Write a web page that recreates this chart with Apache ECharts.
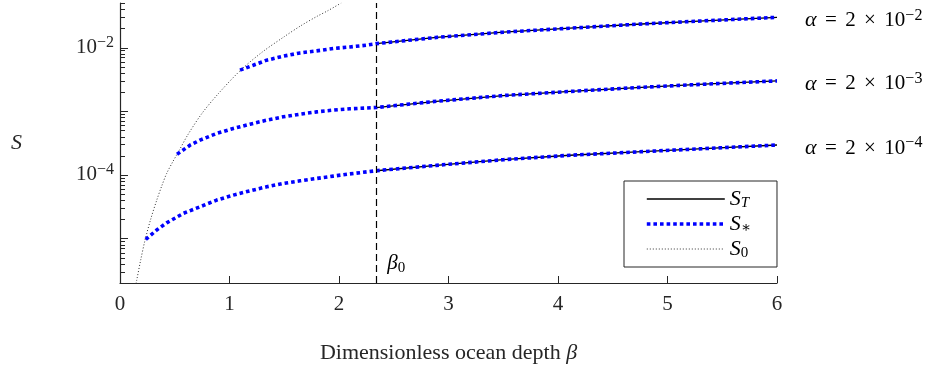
<!DOCTYPE html>
<html>
<head>
<meta charset="utf-8">
<script src="https://cdn.jsdelivr.net/npm/echarts@6/dist/echarts.min.js"></script>
<style>
  html, body { margin: 0; padding: 0; background: #ffffff; }
  #chart { width: 925px; height: 369px; }
</style>
</head>
<body>
<div id="chart"></div>
<script>
// Critical ocean depth marker
const beta0 = 2.34;

// Exact solution S_T (from beta0 onwards), one array per alpha
const betaT = [2.34, 2.89, 3.5, 4.11, 4.72, 5.33, 6.0];
const sT_a2 = [1.15e-2, 1.44e-2, 1.74e-2, 2.01e-2, 2.32e-2, 2.62e-2, 2.98e-2];
const sT_a3 = [1.14e-3, 1.43e-3, 1.76e-3, 2.04e-3, 2.35e-3, 2.65e-3, 2.99e-3];
const sT_a4 = [1.16e-4, 1.41e-4, 1.73e-4, 2.03e-4, 2.29e-4, 2.58e-4, 2.94e-4];

// Approximation S_* for each alpha
const betaStar_a2 = [1.096, 1.217, 1.34, 1.49, 1.644, 1.796, 1.948, 2.1, 2.253, 2.34, 2.89, 3.5, 4.11, 4.72, 5.33, 6.0];
const sStar_a2 = [4.41e-3, 5.27e-3, 6.32e-3, 7.29e-3, 8.22e-3, 8.85e-3, 9.64e-3, 1.02e-2, 1.09e-2, 1.15e-2, 1.44e-2, 1.74e-2, 2.01e-2, 2.32e-2, 2.62e-2, 2.98e-2];

const betaStar_a3 = [0.521, 0.639, 0.731, 0.883, 1.035, 1.187, 1.34, 1.491, 1.644, 1.796, 1.948, 2.1, 2.34, 2.89, 3.5, 4.11, 4.72, 5.33, 6.0];
const sStar_a3 = [2.11e-4, 2.92e-4, 3.51e-4, 4.47e-4, 5.35e-4, 6.25e-4, 7.23e-4, 8.15e-4, 8.97e-4, 9.75e-4, 1.04e-3, 1.09e-3, 1.14e-3, 1.43e-3, 1.76e-3, 2.04e-3, 2.35e-3, 2.65e-3, 2.99e-3];

const betaStar_a4 = [0.235, 0.335, 0.426, 0.578, 0.731, 0.883, 1.035, 1.187, 1.34, 1.491, 1.644, 1.796, 1.948, 2.1, 2.34, 2.89, 3.5, 4.11, 4.72, 5.33, 6.0];
const sStar_a4 = [9.68e-6, 1.36e-5, 1.76e-5, 2.48e-5, 3.15e-5, 4.01e-5, 4.80e-5, 5.61e-5, 6.49e-5, 7.33e-5, 8.05e-5, 8.77e-5, 9.55e-5, 1.035e-4, 1.16e-4, 1.41e-4, 1.73e-4, 2.03e-4, 2.29e-4, 2.58e-4, 2.94e-4];

// Shallow-ocean limit S_0
const beta0Curve = [0.14, 0.152, 0.19, 0.228, 0.28, 0.335, 0.38, 0.426, 0.48, 0.533, 0.62, 0.75, 0.9, 1.1, 1.3, 1.5, 1.65, 1.8, 1.9, 2.02];
const s0 = [1.75e-6, 2.19e-6, 4.68e-6, 9.33e-6, 2.0e-5, 3.98e-5, 6.6e-5, 1.05e-4, 1.58e-4, 2.29e-4, 4.27e-4, 9.3e-4, 1.9e-3, 4.37e-3, 8.5e-3, 1.48e-2, 2.19e-2, 3.09e-2, 3.8e-2, 5.0e-2];

// Axis settings
const xTicks = [0, 1, 2, 3, 4, 5, 6];
const yMin = 2e-6, yMax = 5e-2;
const yLabelExponents = [-2, -4];
const alphaExponents = ['−2', '−3', '−4'];

const SERIF = "'Liberation Serif', 'DejaVu Serif', serif";
const AXIS_COLOR = '#262626';
const BLUE = '#0000ff';
const SP = '\u2009\u2009';

const zip = (xs, ys) => xs.map((x, i) => [x, ys[i]]);

// log-axis tick positions: decades get long ticks, 2..9 get short ones
const yTickMarks = [];
for (let e = -6; e <= -1; e++) {
  for (let k = 1; k <= 9; k++) {
    const v = k * Math.pow(10, e);
    if (v >= yMin * 0.999 && v <= yMax * 1.001) yTickMarks.push([0, v, k === 1 ? 8 : 5]);
  }
}

const labelRich = {
  b: { fontFamily: SERIF, fontSize: 21, color: AXIS_COLOR, lineHeight: 26, verticalAlign: 'middle' },
  s: { fontFamily: SERIF, fontSize: 16, color: AXIS_COLOR, lineHeight: 16, verticalAlign: 'top' }
};

const legendRich = {
  i: { fontFamily: SERIF, fontSize: 22, fontStyle: 'italic', color: '#000', lineHeight: 24, verticalAlign: 'middle' },
  s: { fontFamily: SERIF, fontSize: 15, fontStyle: 'italic', color: '#000', lineHeight: 13, verticalAlign: 'bottom' },
  u: { fontFamily: SERIF, fontSize: 15, color: '#000', lineHeight: 13, verticalAlign: 'bottom' }
};

function alphaLabel(exp) {
  return {
    show: true,
    distance: 28,
    offset: [0, 3],
    color: '#000',
    formatter: '{a|α}' + SP + '=' + SP + '2' + SP + '×' + SP + '10{s|' + exp + '}',
    fontFamily: SERIF,
    fontSize: 21,
    rich: {
      a: { fontFamily: SERIF, fontSize: 22, fontStyle: 'italic', color: '#000', lineHeight: 26, verticalAlign: 'middle' },
      s: { fontFamily: SERIF, fontSize: 16, color: '#000', lineHeight: 16, verticalAlign: 'top' }
    }
  };
}

function exactSeries(values, exp, extra) {
  return Object.assign({
    name: 'ST',
    type: 'line',
    data: zip(betaT, values),
    symbol: 'none',
    z: 3,
    lineStyle: { color: '#000', width: 1.3, type: 'solid' },
    itemStyle: { color: '#000' },
    endLabel: alphaLabel(exp)
  }, extra || {});
}

function starSeries(betas, values) {
  return {
    name: 'Sstar',
    type: 'line',
    data: zip(betas, values),
    symbol: 'none',
    z: 4,
    lineStyle: { color: BLUE, width: 3.6, type: [3.6, 3], cap: 'butt' },
    itemStyle: { color: BLUE }
  };
}

const chart = echarts.init(document.getElementById('chart'), null, { renderer: 'canvas' });

chart.setOption({
  animation: false,
  backgroundColor: '#ffffff',
  grid: { left: 120, top: 3, width: 657, height: 280, containLabel: false },
  legend: {
    orient: 'vertical',
    left: 624,
    top: 181,
    padding: [7, 26, 6, 21],
    itemWidth: 78,
    itemHeight: 14,
    itemGap: 2,
    borderColor: AXIS_COLOR,
    borderWidth: 1,
    backgroundColor: '#ffffff',
    selectedMode: false,
    data: ['ST', 'Sstar', 'S0'],
    lineStyle: { width: 'inherit' },
    itemStyle: { color: 'rgba(0,0,0,0)', borderWidth: 0, opacity: 0 },
    formatter: function (name) {
      if (name === 'ST') return '{i|S}{s|T}';
      if (name === 'Sstar') return '{i|S}{u|∗}';
      return '{i|S}{u|0}';
    },
    textStyle: { rich: legendRich }
  },
  xAxis: {
    type: 'value',
    min: 0,
    max: 6,
    interval: 1,
    name: 'Dimensionless ocean depth {i|β}',
    nameLocation: 'middle',
    nameGap: 59,
    nameTextStyle: {
      fontFamily: SERIF, fontSize: 22, color: AXIS_COLOR,
      rich: { i: { fontFamily: SERIF, fontSize: 22, fontStyle: 'italic', color: AXIS_COLOR } }
    },
    axisLine: { show: true, lineStyle: { color: AXIS_COLOR, width: 1.2 } },
    axisTick: { show: true, inside: true, length: 7, lineStyle: { color: AXIS_COLOR, width: 1 } },
    axisLabel: {
      margin: 11,
      fontFamily: SERIF, fontSize: 21, color: AXIS_COLOR,
      formatter: (v) => (xTicks.indexOf(v) >= 0 ? String(v) : '')
    },
    splitLine: { show: false }
  },
  yAxis: {
    type: 'log',
    logBase: 10,
    min: yMin,
    max: yMax,
    name: 'S',
    nameLocation: 'middle',
    nameRotate: 0,
    nameGap: 98,
    nameTextStyle: { fontFamily: SERIF, fontSize: 22, fontStyle: 'italic', color: AXIS_COLOR },
    axisLine: { show: true, lineStyle: { color: AXIS_COLOR, width: 1.2 } },
    axisTick: { show: false },
    axisLabel: {
      margin: 6,
      showMinLabel: false,
      showMaxLabel: false,
      formatter: function (v) {
        const lg = Math.log10(v);
        const e = Math.round(lg);
        if (Math.abs(lg - e) > 1e-6) return '';
        if (yLabelExponents.indexOf(e) < 0) return '';
        return '{b|10}{s|−' + (-e) + '}';
      },
      rich: labelRich
    },
    splitLine: { show: false }
  },
  series: [
    {
      name: 'S0',
      type: 'line',
      data: zip(beta0Curve, s0),
      symbol: 'none',
      smooth: 0.3,
      z: 2,
      lineStyle: { color: '#333333', width: 1, type: [1, 2] },
      itemStyle: { color: '#333333' }
    },
    starSeries(betaStar_a2, sStar_a2),
    starSeries(betaStar_a3, sStar_a3),
    starSeries(betaStar_a4, sStar_a4),
    exactSeries(sT_a2, alphaExponents[0], {
      markLine: {
        silent: true,
        symbol: 'none',
        label: { show: false },
        lineStyle: { color: '#000', width: 1.2, type: [7, 4] },
        data: [{ xAxis: beta0 }]
      },
      markPoint: {
        silent: true,
        symbol: 'circle',
        symbolSize: 0,
        data: [{ coord: [beta0, 4.1e-6] }],
        label: {
          show: true,
          position: 'right',
          offset: [6, 0],
          formatter: '{i|β}{u|0}',
          rich: {
            i: { fontFamily: SERIF, fontSize: 21, fontStyle: 'italic', color: '#000', lineHeight: 24, verticalAlign: 'middle' },
            u: { fontFamily: SERIF, fontSize: 15, color: '#000', lineHeight: 13, verticalAlign: 'bottom' }
          }
        }
      }
    }),
    exactSeries(sT_a3, alphaExponents[1]),
    exactSeries(sT_a4, alphaExponents[2]),
    {
      name: 'yTicks',
      type: 'custom',
      coordinateSystem: 'cartesian2d',
      silent: true,
      clip: false,
      z: 10,
      data: yTickMarks,
      renderItem: function (params, api) {
        const p = api.coord([api.value(0), api.value(1)]);
        const len = api.value(2);
        const y = Math.round(p[1]) + 0.5;
        return {
          type: 'line',
          shape: { x1: p[0], y1: y, x2: p[0] + len, y2: y },
          style: { stroke: AXIS_COLOR, lineWidth: 1 }
        };
      }
    }
  ]
});
</script>
</body>
</html>
